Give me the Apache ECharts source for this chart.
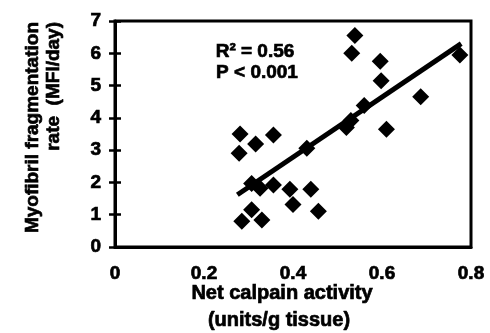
<!DOCTYPE html>
<html>
<head>
<meta charset="utf-8">
<script src="https://cdn.jsdelivr.net/npm/echarts@6/dist/echarts.min.js"></script>
<style>
html,body{margin:0;padding:0;background:#fff;}
#chart{width:490px;height:333px;}
</style>
</head>
<body>
<div id="chart"></div>
<script>
// Net calpain activity (units/g tissue)
var calpainActivity = [0.539, 0.532, 0.596, 0.598, 0.775, 0.687, 0.560, 0.530, 0.520, 0.610,
  0.431, 0.281, 0.356, 0.316, 0.279, 0.307, 0.326, 0.356, 0.393, 0.440,
  0.400, 0.457, 0.307, 0.285, 0.330];
// Myofibril fragmentation rate (MFI/day)
var fragmentationRate = [6.55, 6.00, 5.75, 5.15, 5.95, 4.65, 4.38, 3.92, 3.70, 3.65,
  3.06, 3.50, 3.47, 3.19, 2.90, 1.97, 1.82, 1.92, 1.79, 1.79,
  1.32, 1.11, 1.15, 0.80, 0.84];
// regression line end points (x, y)
var fitX = [0.275, 0.778];
var fitY = [1.62, 6.30];
var xTickLabels = ['0', '0.2', '0.4', '0.6', '0.8'];
var yTickLabels = ['0', '1', '2', '3', '4', '5', '6', '7'];
var statsText = ['R\u00b2 = 0.56', 'P < 0.001'];
var xTitle = ['Net calpain activity', '(units/g tissue)'];
var yTitle = ['Myofibril fragmentation', 'rate  (MFI/day)'];

var FONT = '"Liberation Sans", Arial, Helvetica, sans-serif';
var chart = echarts.init(document.getElementById('chart'), null, {renderer: 'canvas'});

var points = calpainActivity.map(function (x, i) { return [x, fragmentationRate[i]]; });
var fitLine = fitX.map(function (x, i) { return [x, fitY[i]]; });

function txt(x, y, text, size, align, rot) {
  return {
    type: 'text', x: x, y: y, rotation: rot || 0,
    style: {text: text, font: 'bold ' + size + 'px ' + FONT, fill: '#000',
      stroke: '#000', lineWidth: 0.7, align: align, verticalAlign: 'middle'}
  };
}

var option = {
  animation: false,
  backgroundColor: '#fff',
  grid: {left: 115, right: 19, top: 21, bottom: 86, show: true, borderColor: '#000', borderWidth: 3, backgroundColor: 'transparent'},
  xAxis: {
    type: 'value', min: 0, max: 0.8, interval: 0.2,
    axisLine: {show: true, lineStyle: {color: '#000', width: 3}},
    axisTick: {show: false},
    splitLine: {show: false},
    axisLabel: {
      color: '#000', fontSize: 19, fontWeight: 'bold', fontFamily: FONT, margin: 17,
      textBorderColor: '#000', textBorderWidth: 0.7,
      formatter: function (v) { return xTickLabels[Math.round(v / 0.2)]; }
    }
  },
  yAxis: [{
    type: 'value', min: 0, max: 7, interval: 1,
    axisLine: {show: true, lineStyle: {color: '#000', width: 3}},
    axisTick: {show: true, length: 6, lineStyle: {color: '#000', width: 2.5}},
    splitLine: {show: false},
    axisLabel: {
      color: '#000', fontSize: 19, fontWeight: 'bold', fontFamily: FONT, margin: 14,
      textBorderColor: '#000', textBorderWidth: 0.7,
      formatter: function (v) { return yTickLabels[Math.round(v)]; }
    }
  }, {
    type: 'value', min: 0, max: 7, interval: 1, position: 'left',
    axisLine: {show: false},
    axisTick: {show: true, inside: true, length: 6, lineStyle: {color: '#000', width: 2.5}},
    splitLine: {show: false},
    axisLabel: {show: false}
  }],
  series: [{
    type: 'line', data: fitLine, yAxisIndex: 0,
    symbol: 'none', lineStyle: {color: '#000', width: 5}, z: 2
  }, {
    type: 'scatter', data: points, yAxisIndex: 0,
    symbol: 'diamond', symbolSize: 17,
    itemStyle: {color: '#000', opacity: 1}, z: 3
  }],
  graphic: [
    txt(255, 52, statsText[0], 19, 'center'),
    txt(257, 73, statsText[1], 19, 'center'),
    txt(282, 293, xTitle[0], 20, 'center'),
    txt(279, 320, xTitle[1], 20, 'center'),
    txt(33, 22, yTitle[0], 19, 'right', Math.PI / 2),
    txt(54, 22, yTitle[1], 19, 'right', Math.PI / 2)
  ]
};
chart.setOption(option);
</script>
</body>
</html>
